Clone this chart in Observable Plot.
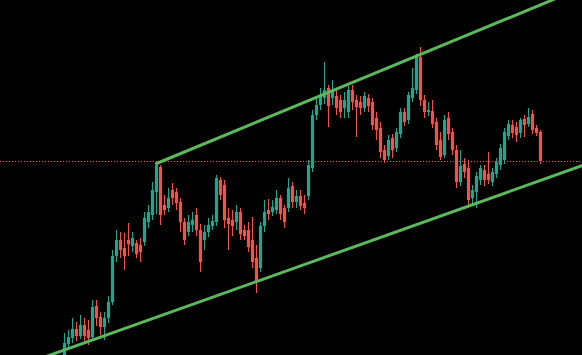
<!DOCTYPE html>
<html>
<head>
<meta charset="utf-8">
<script src="https://cdn.jsdelivr.net/npm/d3@7"></script>
<script src="https://cdn.jsdelivr.net/npm/@observablehq/plot@0.6"></script>
<style>
  html, body { margin: 0; padding: 0; background: #000; overflow: hidden; }
  #chart svg { display: block; }
</style>
</head>
<body>
<div id="chart"></div>
<script>
// Candle values (price units), one per bar
const open  = [0,11,17,26,19,30,25,18,49,38,28,37,53,99,115,107,115,109,112,110,113,133,140,163,188,150,147,165,163,153,133,123,130,140,125,115,123,129,133,175,170,137,135,133,143,125,125,115,97,87,129,145,143,145,157,147,147,169,153,159,152,159,187,240,250,257,267,257,259,255,247,243,265,255,253,247,257,253,237,227,205,199,217,207,221,243,235,257,265,298,255,243,244,233,215,200,237,223,205,173,191,187,157,163,175,185,181,173,181,190,195,219,230,228,222,236,231,241,227,223];
const close = [12,18,26,19,30,19,17,48,37,28,37,53,99,115,105,99,111,117,101,103,137,143,165,190,140,145,157,157,152,133,115,133,135,125,93,123,130,134,177,160,135,131,129,143,121,119,108,93,73,129,143,141,148,157,141,133,167,153,159,149,147,190,240,250,260,265,249,265,247,243,255,265,253,248,247,259,249,230,225,203,195,215,205,223,243,233,260,267,298,255,243,245,231,210,198,235,221,205,173,189,183,155,165,179,187,175,175,183,193,207,223,231,222,220,235,230,238,225,222,194];
const high  = [22,25,37,33,40,37,35,55,55,43,43,59,105,125,123,122,132,123,115,117,143,150,173,192,190,160,167,172,167,157,137,140,143,147,131,130,137,140,180,178,175,147,145,150,147,130,133,138,110,133,155,156,155,165,160,150,177,173,165,165,160,195,245,257,267,293,270,275,265,260,263,269,270,260,259,263,261,257,243,233,210,220,221,227,247,247,263,287,301,308,260,253,255,237,223,240,243,227,210,205,197,195,170,183,190,190,203,187,197,211,227,235,235,233,237,240,247,245,230,225];
const low   = [-5,5,12,14,16,14,10,15,29,20,15,32,50,93,97,85,99,103,97,93,109,127,135,141,130,140,143,150,145,123,110,119,123,119,83,105,118,125,129,155,127,105,119,125,115,115,103,87,62,83,123,135,139,141,135,127,143,147,147,145,141,155,183,235,245,251,228,250,240,237,237,237,245,218,240,243,243,225,215,197,192,195,197,203,217,229,231,253,261,249,237,239,227,205,195,197,215,200,167,169,177,148,150,147,170,169,171,169,177,185,191,215,217,213,217,218,228,221,219,191];

// Trend channel lines: [bar index, price] end points
const upperLineIdx   = [23, 129.5];
const upperLinePrice = [192, 368];
const lowerLineIdx   = [-6, 129.5];
const lowerLinePrice = [-3, 190];

const candles = open.map((o, i) => ({
  i, open: o, close: close[i], high: high[i], low: low[i],
  up: close[i] >= o
}));
const upper = upperLineIdx.map((x, k) => ({x, y: upperLinePrice[k]}));
const lower = lowerLineIdx.map((x, k) => ({x, y: lowerLinePrice[k]}));
const lastPrice = close[close.length - 1];

const GREEN = "#22a58f";
const RED = "#ef5350";

const chart = Plot.plot({
  width: 582,
  height: 355,
  margin: 0,
  style: { background: "#000", overflow: "hidden" },
  x: { domain: [-16, 129.5], axis: null },
  y: { domain: [0, 355], axis: null },
  marks: [
    Plot.ruleY([lastPrice], { stroke: "#ff5a40", strokeWidth: 1, strokeDasharray: "1,2", shapeRendering: "crispEdges" }),
    Plot.ruleX(candles, { x: "i", y1: "low", y2: "high", stroke: d => d.up ? GREEN : RED, strokeWidth: 1 }),
    Plot.ruleX(candles, { x: "i", y1: "open", y2: "close", stroke: d => d.up ? GREEN : RED, strokeWidth: 3.2, strokeLinecap: "butt" }),
    Plot.line(upper, { x: "x", y: "y", stroke: "#5cb85c", strokeWidth: 3, clip: true }),
    Plot.line(lower, { x: "x", y: "y", stroke: "#5cb85c", strokeWidth: 3, clip: true })
  ]
});
document.getElementById("chart").appendChild(chart);
</script>
</body>
</html>
